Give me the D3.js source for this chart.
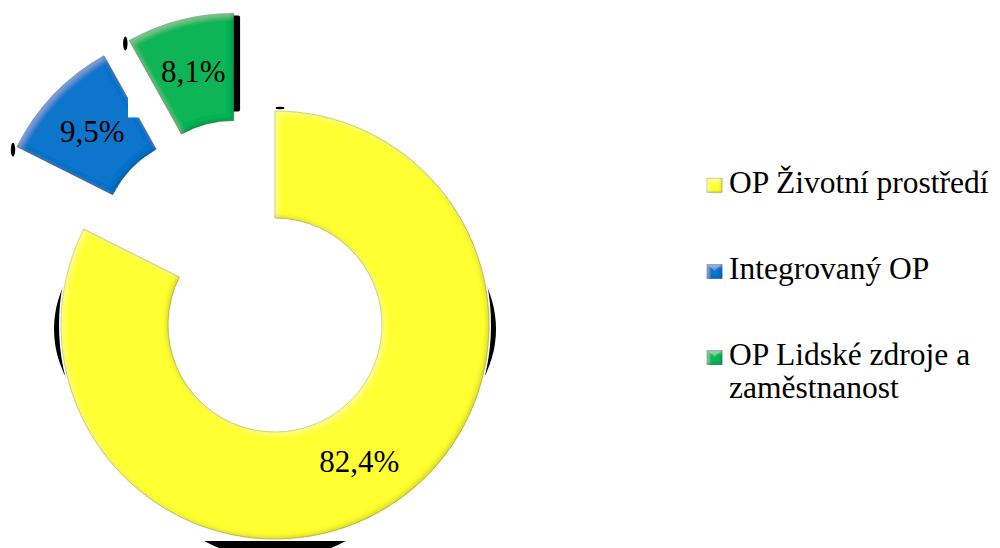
<!DOCTYPE html>
<html>
<head>
<meta charset="utf-8">
<script src="https://cdn.jsdelivr.net/npm/d3@7"></script>
<style>
  body { margin: 0; background: #fff; }
  svg { display: block; }
</style>
</head>
<body>
<svg id="chart" width="1000" height="548"></svg>
<script>
// data
var categories = ["OP Životní prostředí", "Integrovaný OP", "OP Lidské zdroje a zaměstnanost"]
var shares = [82.4, 9.5, 8.1]
var valueLabels = ["82,4%", "9,5%", "8,1%"]
var legendLines = [["OP Životní prostředí"], ["Integrovaný OP"], ["OP Lidské zdroje a", "zaměstnanost"]]

// look
var colors = ["#ffff33", "#0b74cc", "#0bb557"]
var explodeDist = [0, 106, 106]
var explodeAngle = [0, 321, 337]   // degrees, clockwise from top
var serif = "Liberation Serif"

var cx = 275, cy = 325, R = 214, r = 107

var svg = d3.select('#chart')
var defs = svg.append('defs')

// bevel look of the slices
function bevel(id, blur, d, hiOp, shOp) {
  var f = defs.append('filter').attr('id', id)
    .attr('x', '-10%').attr('y', '-10%').attr('width', '120%').attr('height', '120%')
  f.append('feGaussianBlur').attr('in', 'SourceAlpha').attr('stdDeviation', blur).attr('result', 'b')
  f.append('feOffset').attr('in', 'b').attr('dx', d).attr('dy', d).attr('result', 'bo1')
  f.append('feComposite').attr('in', 'SourceAlpha').attr('in2', 'bo1').attr('operator', 'out').attr('result', 'hiA')
  f.append('feFlood').attr('flood-color', '#fff').attr('flood-opacity', hiOp)
  f.append('feComposite').attr('in2', 'hiA').attr('operator', 'in').attr('result', 'hi')
  f.append('feOffset').attr('in', 'b').attr('dx', -d).attr('dy', -d).attr('result', 'bo2')
  f.append('feComposite').attr('in', 'SourceAlpha').attr('in2', 'bo2').attr('operator', 'out').attr('result', 'shA')
  f.append('feFlood').attr('flood-color', '#000').attr('flood-opacity', shOp)
  f.append('feComposite').attr('in2', 'shA').attr('operator', 'in').attr('result', 'sh')
  var m = f.append('feMerge')
  m.append('feMergeNode').attr('in', 'SourceGraphic')
  m.append('feMergeNode').attr('in', 'hi')
  m.append('feMergeNode').attr('in', 'sh')
}
bevel('bevel', 2.5, 2.5, 0.22, 0.35)
bevel('bevelSmall', 1.5, 1.5, 0.3, 0.4)

defs.append('clipPath').attr('id', 'bottomClip')
  .append('rect').attr('x', 0).attr('y', cy + R + 2).attr('width', 1000).attr('height', 100)

var pie = d3.pie().sort(null).value(d => d)
var arcs = pie(shares)
var arc = d3.arc().innerRadius(r).outerRadius(R)

function offset(i) {
  var a = explodeAngle[i] * Math.PI / 180
  return [explodeDist[i] * Math.sin(a), -explodeDist[i] * Math.cos(a)]
}

// black shadow leftovers round the ring
svg.append('ellipse').attr('cx', cx).attr('cy', cy + 4)
  .attr('rx', R + 7).attr('ry', 150).attr('fill', '#000')
svg.append('circle').attr('cx', cx).attr('cy', cy + 86).attr('r', 148)
  .attr('fill', '#000').attr('clip-path', 'url(#bottomClip)')
svg.append('circle').attr('cx', cx).attr('cy', cy).attr('r', R + 2).attr('fill', '#fff')

var g = svg.append('g').attr('transform', `translate(${cx},${cy})`)

// small black marks at the outer start corners
arcs.forEach(function (d, i) {
  var o = offset(i)
  var px = o[0] + R * Math.sin(d.startAngle), py = o[1] - R * Math.cos(d.startAngle)
  if (i == 0) {
    g.append('ellipse').attr('cx', px + 5).attr('cy', py - 3).attr('rx', 4.5).attr('ry', 1.2).attr('fill', '#000')
  } else {
    g.append('ellipse').attr('cx', px - 4).attr('cy', py + 3).attr('rx', 2.2).attr('ry', 7).attr('fill', '#000')
  }
})

// dark band on the right edge of the last slice
var lo = offset(arcs.length - 1)
g.append('rect')
  .attr('x', lo[0] - 2).attr('y', lo[1] - R + 2)
  .attr('width', 8.5).attr('height', R - r - 11)
  .attr('rx', 2).attr('fill', '#000')

var slices = g.selectAll('path.slice')
  .data(arcs)
  .enter()
  .append('path')
    .attr('class', 'slice')
    .attr('d', arc)
    .attr('transform', (d, i) => `translate(${offset(i)})`)
    .attr('fill', (d, i) => colors[i])
    .attr('stroke', (d, i) => d3.color(colors[i]).darker(1))
    .attr('stroke-width', 0.6)
    .attr('filter', 'url(#bevel)')

// white notch that cuts the blue slice next to the green one
var bo = offset(1)
g.append('rect')
  .attr('x', bo[0] + R * Math.sin(arcs[1].endAngle) + 24)
  .attr('y', -cy)
  .attr('width', 48)
  .attr('height', cy + lo[1] - r - 3)
  .attr('fill', '#fff')
slices.filter((d, i) => i == 2).raise()

g.selectAll('text.val')
  .data(arcs)
  .enter()
  .append('text')
    .attr('class', 'val')
    .attr('x', (d, i) => arc.centroid(d)[0] + offset(i)[0])
    .attr('y', (d, i) => arc.centroid(d)[1] + offset(i)[1] + 10)
    .attr('text-anchor', 'middle')
    .attr('font-family', serif)
    .attr('font-size', 31)
    .text((d, i) => valueLabels[i])

// legend
var legend = svg.append('g').attr('transform', 'translate(707,0)')
categories.forEach(function (c, i) {
  var base = 192.7 + i * 86.2
  legend.append('rect')
    .attr('x', 0).attr('y', base - 14.5)
    .attr('width', 15).attr('height', 14)
    .attr('fill', colors[i])
    .attr('stroke', d3.color(colors[i]).darker(1))
    .attr('stroke-width', 0.6)
    .attr('filter', 'url(#bevelSmall)')
  legend.append('path')
    .attr('d', `M2,${base - 13.5}L13,${base - 13.5}L7.5,${base - 8}Z`)
    .attr('fill', '#fff').attr('opacity', 0.3)
  var t = legend.append('text')
    .attr('x', 22).attr('y', base)
    .attr('font-family', serif)
    .attr('font-size', 31.5)
  legendLines[i].forEach(function (line, j) {
    t.append('tspan').attr('x', 22).attr('dy', j == 0 ? 0 : 33).text(line)
  })
})
</script>
</body>
</html>
